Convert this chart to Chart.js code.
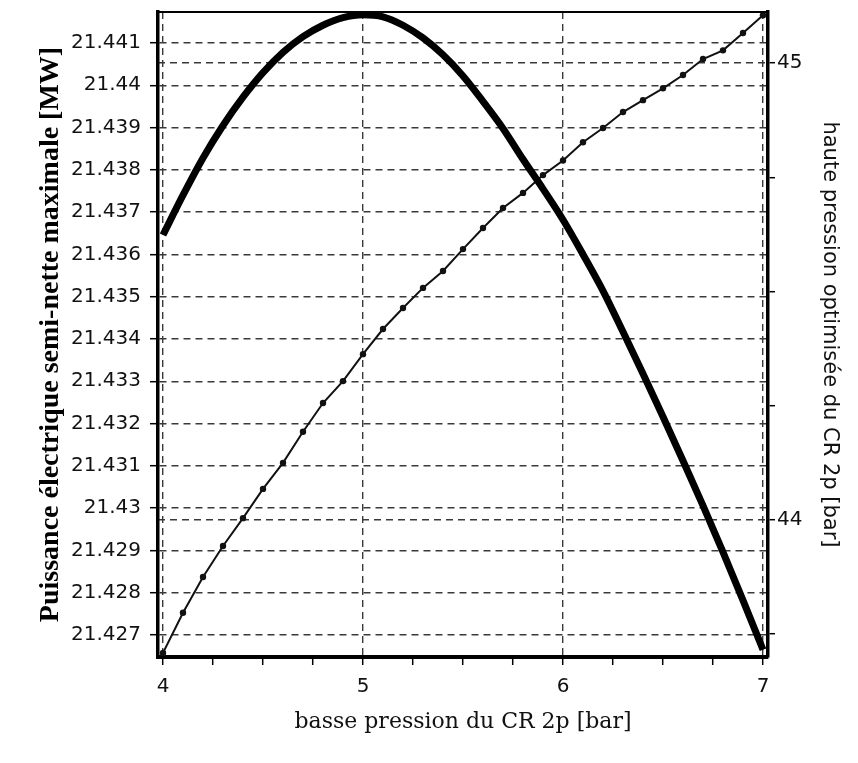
<!DOCTYPE html>
<html>
<head>
<meta charset="utf-8">
<script src="https://cdn.jsdelivr.net/npm/chart.js@4.4.1/dist/chart.umd.min.js"></script>
<style>
  body { margin: 0; background: #fff; }
  canvas { display: block; }
</style>
</head>
<body>
<canvas id="myChart" width="858" height="763"></canvas>
<script>
// basse pression du CR 2p [bar]
let lowPressure = [4.0, 4.1, 4.2, 4.3, 4.4, 4.5, 4.6, 4.7, 4.8, 4.9,
                   5.0, 5.1, 5.2, 5.3, 5.4, 5.5, 5.6, 5.7, 5.8, 5.9,
                   6.0, 6.1, 6.2, 6.3, 6.4, 6.5, 6.6, 6.7, 6.8, 6.9, 7.0];

// puissance semi-nette maximale [MW] (left axis, thick curve)
let power = [21.43646, 21.43740, 21.43828, 21.43905, 21.43972, 21.44030, 21.44078, 21.44115, 21.44142, 21.44160,
             21.44167, 21.44162, 21.44142, 21.44112, 21.44072, 21.44022, 21.43962, 21.43898, 21.43825, 21.43755,
             21.43682, 21.43600, 21.43514, 21.43417, 21.43318, 21.43216, 21.43112, 21.43006, 21.42896, 21.42782, 21.42665];

// haute pression optimisee [bar] (right axis, thin curve with points)
let highPressure = [43.709, 43.797, 43.875, 43.943, 44.004, 44.068, 44.125, 44.193, 44.256, 44.304,
                    44.363, 44.418, 44.464, 44.508, 44.545, 44.593, 44.639, 44.683, 44.716, 44.755,
                    44.787, 44.827, 44.858, 44.893, 44.919, 44.945, 44.974, 45.009, 45.028, 45.066, 45.105];

let xTicks = [4, 4.25, 4.5, 4.75, 5, 5.25, 5.5, 5.75, 6, 6.25, 6.5, 6.75, 7];
let xLabelled = [4, 5, 6, 7];
let powerTicks = [21.427, 21.428, 21.429, 21.43, 21.431, 21.432, 21.433, 21.434,
                  21.435, 21.436, 21.437, 21.438, 21.439, 21.44, 21.441];
let highTicks = [43.75, 44, 44.25, 44.5, 44.75, 45];
let highLabelled = [44, 45];

const gridColor = '#3a3a3a';
const dash = [7, 5];

function setTicks(list) {
    return function (scale) {
        scale.ticks = list.map(v => ({ value: v }));
    };
}

// fixed box sizes so the plot area lands where the original one is
function fixBox(size) {
    return function (s) {
        if (s.isHorizontal()) {
            s.height = size;
            s.paddingLeft = 0;
            s.paddingRight = 0;
        } else {
            s.width = size;
            s.paddingTop = 0;
            s.paddingBottom = 0;
        }
    };
}

// top frame line (the library draws the other three sides as axis borders)
const topFrame = {
    id: 'topFrame',
    afterDraw(chart) {
        const a = chart.chartArea;
        const ctx = chart.ctx;
        ctx.save();
        ctx.strokeStyle = '#000';
        ctx.lineWidth = 2;
        ctx.beginPath();
        ctx.moveTo(a.left, a.top);
        ctx.lineTo(a.right, a.top);
        ctx.stroke();
        ctx.restore();
    }
};

var ctx = document.getElementById('myChart').getContext('2d');
var chart = new Chart(ctx, {
    type: 'line',
    data: {
        datasets: [{
            label: 'Puissance',
            data: lowPressure.map((x, i) => ({ x: x, y: power[i] })),
            yAxisID: 'y',
            borderColor: '#000',
            borderWidth: 7,
            pointRadius: 0,
            cubicInterpolationMode: 'monotone',
            fill: false
        }, {
            label: 'Haute pression',
            data: lowPressure.map((x, i) => ({ x: x, y: highPressure[i] })),
            yAxisID: 'y2',
            borderColor: '#111',
            borderWidth: 2,
            pointRadius: 3.2,
            pointBackgroundColor: '#111',
            pointBorderColor: '#111',
            pointBorderWidth: 0,
            tension: 0,
            fill: false
        }]
    },
    options: {
        responsive: false,
        animation: false,
        layout: { padding: { top: 12, left: 0, right: 0, bottom: 0 } },
        plugins: {
            legend: { display: false },
            tooltip: { enabled: false }
        },
        scales: {
            x: {
                type: 'linear',
                position: 'bottom',
                bounds: 'data',
                min: 3.975,
                max: 7.025,
                afterBuildTicks: setTicks(xTicks),
                afterFit: fixBox(106),
                ticks: {
                    autoSkip: false,
                    maxRotation: 0,
                    padding: 10,
                    color: '#111',
                    font: { family: 'DejaVu Sans', size: 20 },
                    callback: (v) => xLabelled.includes(v) ? String(v) : ''
                },
                grid: {
                    color: (c) => (c.tick && xLabelled.includes(c.tick.value)) ? gridColor : 'rgba(0,0,0,0)',
                    lineWidth: 1.4,
                    borderDash: dash,
                    tickColor: '#000',
                    tickLength: 8,
                    tickWidth: 1.5
                },
                border: { display: true, color: '#000', width: 4, dash: dash },
                title: {
                    display: true,
                    text: 'basse pression du CR 2p [bar]',
                    color: '#111',
                    font: { family: 'DejaVu Serif', size: 22 },
                    padding: { top: 0, bottom: 28 }
                }
            },
            y: {
                type: 'linear',
                position: 'left',
                bounds: 'data',
                min: 21.42648,
                max: 21.441733,
                afterBuildTicks: setTicks(powerTicks),
                afterFit: fixBox(158),
                ticks: {
                    autoSkip: false,
                    padding: 9,
                    color: '#111',
                    font: { family: 'DejaVu Sans', size: 20 },
                    callback: (v) => String(v)
                },
                grid: {
                    color: gridColor,
                    lineWidth: 1.4,
                    borderDash: dash,
                    tickColor: '#000',
                    tickLength: 8,
                    tickWidth: 1.5
                },
                border: { display: true, color: '#000', width: 3.5, dash: dash },
                title: {
                    display: true,
                    text: 'Puissance électrique semi-nette maximale [MW]',
                    color: '#000',
                    font: { family: 'Liberation Serif', size: 28, weight: 'bold' },
                    padding: { top: 34, bottom: 0 }
                }
            },
            y2: {
                type: 'linear',
                position: 'right',
                bounds: 'data',
                min: 43.70,
                max: 45.112,
                afterBuildTicks: setTicks(highTicks),
                afterFit: fixBox(90),
                ticks: {
                    autoSkip: false,
                    padding: 2,
                    color: '#111',
                    font: { family: 'DejaVu Sans', size: 20 },
                    callback: (v) => highLabelled.includes(v) ? String(v) : ''
                },
                grid: {
                    color: (c) => (c.tick && highLabelled.includes(c.tick.value)) ? gridColor : 'rgba(0,0,0,0)',
                    lineWidth: 1.4,
                    borderDash: dash,
                    tickColor: '#000',
                    tickLength: 7,
                    tickWidth: 1.5
                },
                border: { display: true, color: '#000', width: 3.5, dash: dash },
                title: {
                    display: true,
                    text: 'haute pression optimisée du CR 2p [bar]',
                    color: '#111',
                    font: { family: 'DejaVu Sans', size: 21 },
                    padding: { top: 16, bottom: 0 }
                }
            }
        }
    },
    plugins: [topFrame]
});
</script>
</body>
</html>
